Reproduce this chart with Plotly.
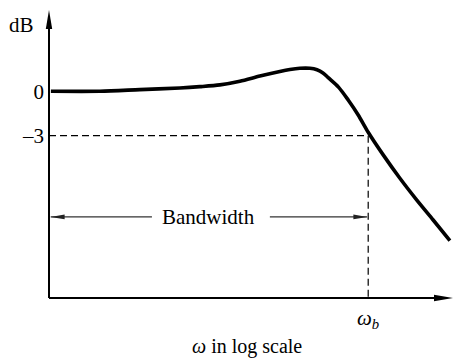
import numpy as np
import plotly.graph_objects as go

# ---- data ----
omega = [1.08e-4, 4.43e-4, 1.40e-3, 4.43e-3, 7.87e-3, 0.0140, 0.0249, 0.0443,
         0.0787, 0.105, 0.140, 0.187, 0.229, 0.272, 0.316, 0.425, 0.562, 0.750,
         1.0, 1.54, 2.49, 4.03, 6.49, 10.5]
gain_db = [0.0, 0.0, 0.11, 0.22, 0.31, 0.43, 0.68, 1.03, 1.34, 1.47, 1.55, 1.55,
           1.45, 1.24, 0.92, 0.28, -0.59, -1.60, -2.77, -4.30, -5.88, -7.34, -8.70,
           -10.09]
omega_b = 1.0
ref_db = -3
y_tick_vals = [0, -3]
y_tick_text = ["0", "\u20133"]
bandwidth_label = "Bandwidth"
bandwidth_db = -8.49
bandwidth_text_omega = 0.0102
bw_left_tail_omega = 0.00198
bw_right_tail_omega = 0.059

X_LOG_RANGE = [-3.99, 1.06]
Y_RANGE = [-13.97, 5.49]
FONT = "Liberation Serif, Times New Roman, serif"


def xpaper(w):
    return (np.log10(w) - X_LOG_RANGE[0]) / (X_LOG_RANGE[1] - X_LOG_RANGE[0])


x_start = 10 ** X_LOG_RANGE[0]

fig = go.Figure()
fig.add_trace(go.Scatter(x=omega, y=gain_db, mode="lines",
                         line=dict(color="black", width=3.6, shape="spline", smoothing=0.8),
                         cliponaxis=False, hoverinfo="skip"))
dash_line = dict(color="black", width=1.2, dash="7px,4px")
fig.add_trace(go.Scatter(x=[x_start, omega_b], y=[ref_db, ref_db], mode="lines",
                         line=dash_line, hoverinfo="skip"))
fig.add_trace(go.Scatter(x=[omega_b, omega_b], y=[ref_db, Y_RANGE[0]], mode="lines",
                         line=dash_line, hoverinfo="skip"))
arrow_line = dict(color="#333333", width=1.3)
fig.add_trace(go.Scatter(x=[x_start * 1.05, bw_left_tail_omega], y=[bandwidth_db] * 2,
                         mode="lines", line=arrow_line, hoverinfo="skip"))
fig.add_trace(go.Scatter(x=[bw_right_tail_omega, omega_b * 0.97], y=[bandwidth_db] * 2,
                         mode="lines", line=arrow_line, hoverinfo="skip"))

shapes = [
    # axes
    dict(type="line", xref="paper", yref="paper", x0=0, y0=0, x1=0, y1=0.95,
         line=dict(color="black", width=2)),
    dict(type="line", xref="paper", yref="paper", x0=0, y0=0, x1=0.97, y1=0,
         line=dict(color="black", width=2)),
    # axis arrowheads
    dict(type="path", xref="paper", yref="paper", xsizemode="pixel", ysizemode="pixel",
         xanchor=0, yanchor=1, path="M0,0 L-3.2,-19 L3.2,-19 Z",
         fillcolor="black", line=dict(width=0)),
    dict(type="path", xref="paper", yref="paper", xsizemode="pixel", ysizemode="pixel",
         xanchor=1, yanchor=0, path="M0,0 L-19,3.2 L-19,-3.2 Z",
         fillcolor="black", line=dict(width=0)),
    # bandwidth arrowheads
    dict(type="path", xref="paper", yref="y", xsizemode="pixel", ysizemode="pixel",
         xanchor=xpaper(x_start) + 0.004, yanchor=bandwidth_db, path="M0,0 L14,2.4 L14,-2.4 Z",
         fillcolor="#222222", line=dict(width=0)),
    dict(type="path", xref="paper", yref="y", xsizemode="pixel", ysizemode="pixel",
         xanchor=xpaper(omega_b) - 0.002, yanchor=bandwidth_db, path="M0,0 L-14,2.4 L-14,-2.4 Z",
         fillcolor="#222222", line=dict(width=0)),
]

tfont = dict(family=FONT, size=21, color="black")
annotations = [
    dict(text="dB", xref="paper", yref="paper", x=-0.068, y=0.948, showarrow=False,
         font=tfont, xanchor="center", yanchor="middle"),
    dict(text=bandwidth_label, xref="x", yref="y", x=np.log10(bandwidth_text_omega),
         y=bandwidth_db, showarrow=False, font=tfont, xanchor="center", yanchor="middle"),
    dict(text="<i>\u03c9</i><sub><i>b</i></sub>", xref="x", yref="paper", x=np.log10(omega_b),
         y=-0.074, showarrow=False, font=tfont, xanchor="center", yanchor="middle"),
    dict(text="<i>\u03c9</i> in log scale", xref="paper", yref="paper", x=0.49, y=-0.2118,
         showarrow=False, font=dict(family=FONT, size=20, color="black"),
         xanchor="center", yanchor="bottom", borderpad=0),
]

fig.update_layout(
    width=454, height=359,
    margin=dict(l=49, r=1, t=10, b=61),
    paper_bgcolor="white", plot_bgcolor="white",
    showlegend=False,
    shapes=shapes, annotations=annotations,
    font=dict(family=FONT, size=21, color="black"),
    xaxis=dict(type="log", range=X_LOG_RANGE, showgrid=False, zeroline=False,
               showline=False, showticklabels=False, ticks=""),
    yaxis=dict(range=Y_RANGE, tickvals=y_tick_vals, ticktext=y_tick_text,
               showgrid=False, zeroline=False, showline=False, ticks="",
               tickfont=tfont, ticklabelstandoff=4),
)

fig.write_html("out.html", config={"displayModeBar": False},
               post_script="document.body.style.margin='0';")
